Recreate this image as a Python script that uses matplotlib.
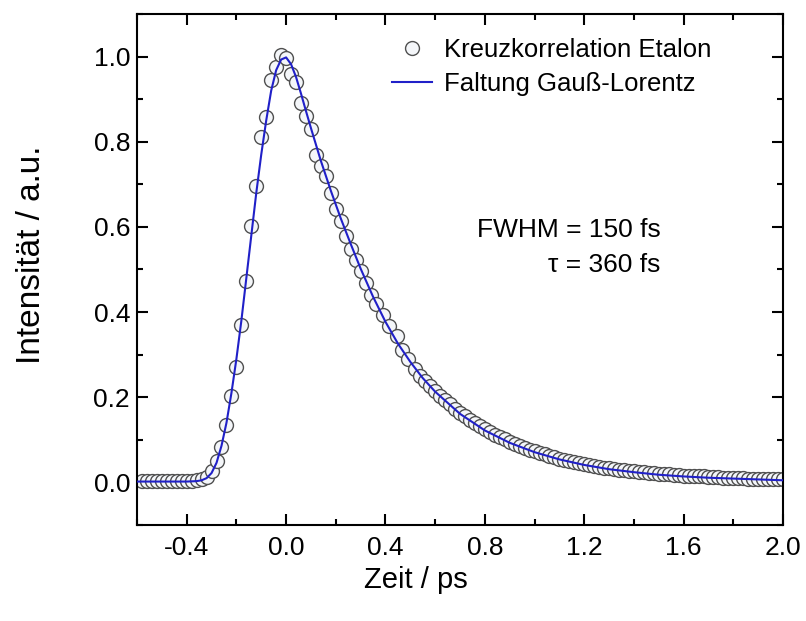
import matplotlib
matplotlib.use("Agg")
import matplotlib.pyplot as plt
from matplotlib.ticker import MultipleLocator

plt.rcParams['font.family'] = ['Liberation Sans', 'DejaVu Sans']

# Measured cross-correlation (data points)
t_data = [-0.58, -0.56, -0.54, -0.52, -0.50, -0.48, -0.46, -0.44, -0.42, -0.40,
          -0.38, -0.36, -0.34, -0.32, -0.30, -0.28, -0.26, -0.24, -0.22, -0.20,
          -0.18, -0.16, -0.14, -0.12, -0.10, -0.08, -0.06, -0.04, -0.02, 0.00,
          0.02, 0.04, 0.06, 0.08, 0.10, 0.12, 0.14, 0.16, 0.18, 0.20,
          0.22, 0.24, 0.26, 0.28, 0.30, 0.32, 0.34, 0.36, 0.39, 0.415,
          0.445, 0.465, 0.49, 0.52, 0.54, 0.56, 0.58, 0.60, 0.62, 0.64,
          0.66, 0.68, 0.70, 0.72, 0.74, 0.76, 0.78, 0.80, 0.82, 0.84,
          0.86, 0.88, 0.90, 0.92, 0.94, 0.96, 0.98, 1.00, 1.02, 1.04,
          1.06, 1.08, 1.10, 1.12, 1.14, 1.16, 1.18, 1.20, 1.22, 1.24,
          1.26, 1.28, 1.30, 1.32, 1.34, 1.36, 1.38, 1.40, 1.42, 1.44,
          1.46, 1.48, 1.50, 1.52, 1.54, 1.56, 1.58, 1.60, 1.62, 1.64,
          1.66, 1.68, 1.70, 1.72, 1.74, 1.76, 1.78, 1.80, 1.82, 1.84,
          1.86, 1.88, 1.90, 1.92, 1.94, 1.96, 1.98, 2.00]
i_data = [0.004, 0.004, 0.004, 0.004, 0.004, 0.004, 0.004, 0.004, 0.004, 0.004,
          0.004, 0.005, 0.007, 0.013, 0.027, 0.050, 0.083, 0.134, 0.203, 0.271,
          0.369, 0.473, 0.602, 0.696, 0.811, 0.858, 0.946, 0.975, 1.003, 0.997,
          0.958, 0.940, 0.891, 0.860, 0.829, 0.770, 0.742, 0.719, 0.680, 0.643,
          0.613, 0.578, 0.547, 0.523, 0.496, 0.469, 0.441, 0.418, 0.394, 0.367,
          0.343, 0.312, 0.289, 0.266, 0.250, 0.238, 0.227, 0.215, 0.204, 0.193,
          0.183, 0.173, 0.164, 0.155, 0.147, 0.139, 0.132, 0.125, 0.118, 0.112,
          0.106, 0.101, 0.095, 0.090, 0.086, 0.081, 0.077, 0.073, 0.069, 0.066,
          0.062, 0.059, 0.056, 0.053, 0.050, 0.048, 0.045, 0.043, 0.041, 0.039,
          0.037, 0.035, 0.033, 0.032, 0.030, 0.029, 0.027, 0.026, 0.025, 0.024,
          0.022, 0.021, 0.020, 0.019, 0.019, 0.018, 0.017, 0.016, 0.015, 0.015,
          0.014, 0.014, 0.013, 0.012, 0.012, 0.011, 0.011, 0.011, 0.010, 0.010,
          0.009, 0.009, 0.009, 0.008, 0.008, 0.008, 0.008, 0.007]

# Fit curve (Gauss-Lorentz convolution)
t_fit = [-0.60, -0.40, -0.36, -0.34, -0.32, -0.30, -0.28, -0.26, -0.24, -0.22,
         -0.20, -0.18, -0.16, -0.14, -0.12, -0.10, -0.08, -0.06, -0.04, -0.02,
         0.00, 0.02, 0.04, 0.06, 0.08, 0.10, 0.14, 0.18, 0.22, 0.26,
         0.30, 0.35, 0.40, 0.45, 0.50, 0.55, 0.60, 0.70, 0.80, 0.90,
         1.00, 1.10, 1.20, 1.30, 1.40, 1.50, 1.60, 1.70, 1.80, 1.90, 2.00]
i_fit = [0.002, 0.002, 0.003, 0.005, 0.010, 0.022, 0.046, 0.086, 0.140, 0.210,
         0.290, 0.380, 0.480, 0.580, 0.680, 0.770, 0.850, 0.920, 0.968, 0.993,
         0.998, 0.982, 0.952, 0.913, 0.872, 0.832, 0.755, 0.685, 0.620, 0.560,
         0.502, 0.436, 0.377, 0.326, 0.283, 0.245, 0.213, 0.161, 0.122, 0.093,
         0.071, 0.054, 0.041, 0.031, 0.024, 0.018, 0.014, 0.011, 0.009, 0.007, 0.005]

x_ticks = [-0.4, 0.0, 0.4, 0.8, 1.2, 1.6, 2.0]
y_ticks = [0.0, 0.2, 0.4, 0.6, 0.8, 1.0]

fig = plt.figure(figsize=(8.06, 6.21), dpi=100)
ax = fig.add_axes([0.170, 0.1546, 0.8015, 0.8229])

ax.plot(t_data, i_data, linestyle='none', marker='o', markersize=10,
        markerfacecolor='#f4f6f9', markeredgecolor='#505050', markeredgewidth=1.0,
        label='Kreuzkorrelation Etalon', zorder=2)
ax.plot(t_fit, i_fit, color='#2020c8', linewidth=1.5,
        label='Faltung Gauß-Lorentz', zorder=3)

ax.set_xlim(-0.6, 2.0)
ax.set_ylim(-0.1, 1.1)
ax.set_xticks(x_ticks)
ax.set_xticklabels([f'{v:.1f}' for v in x_ticks])
ax.set_yticks(y_ticks)
ax.set_yticklabels([f'{v:.1f}' for v in y_ticks])
ax.xaxis.set_minor_locator(MultipleLocator(0.2))
ax.yaxis.set_minor_locator(MultipleLocator(0.1))
ax.tick_params(which='both', direction='in', top=True, right=True, width=1.5,
               labelsize=19)
ax.tick_params(axis='x', which='both', pad=8)
ax.tick_params(axis='y', which='both', pad=5)
ax.tick_params(which='major', length=8)
ax.tick_params(which='minor', length=4)
for s in ax.spines.values():
    s.set_linewidth(1.5)

ax.set_xlabel('Zeit / ps', fontsize=21)
ax.set_ylabel('Intensität / a.u.', fontsize=24)
ax.xaxis.set_label_coords(0.432, -0.080)
ax.yaxis.set_label_coords(-0.140, 0.529)

leg = ax.legend(loc='upper left', bbox_to_anchor=(0.379, 0.973), frameon=False,
                fontsize=18.5, handlelength=1.55, handletextpad=0.45,
                labelspacing=0.4, borderaxespad=0.0)

ax.text(0.81, 0.577, 'FWHM = 150 fs', transform=ax.transAxes, fontsize=19,
        ha='right', va='center')
ax.text(0.81, 0.509, 'τ = 360 fs', transform=ax.transAxes, fontsize=19,
        ha='right', va='center')

fig.savefig('out.png', dpi=100)
